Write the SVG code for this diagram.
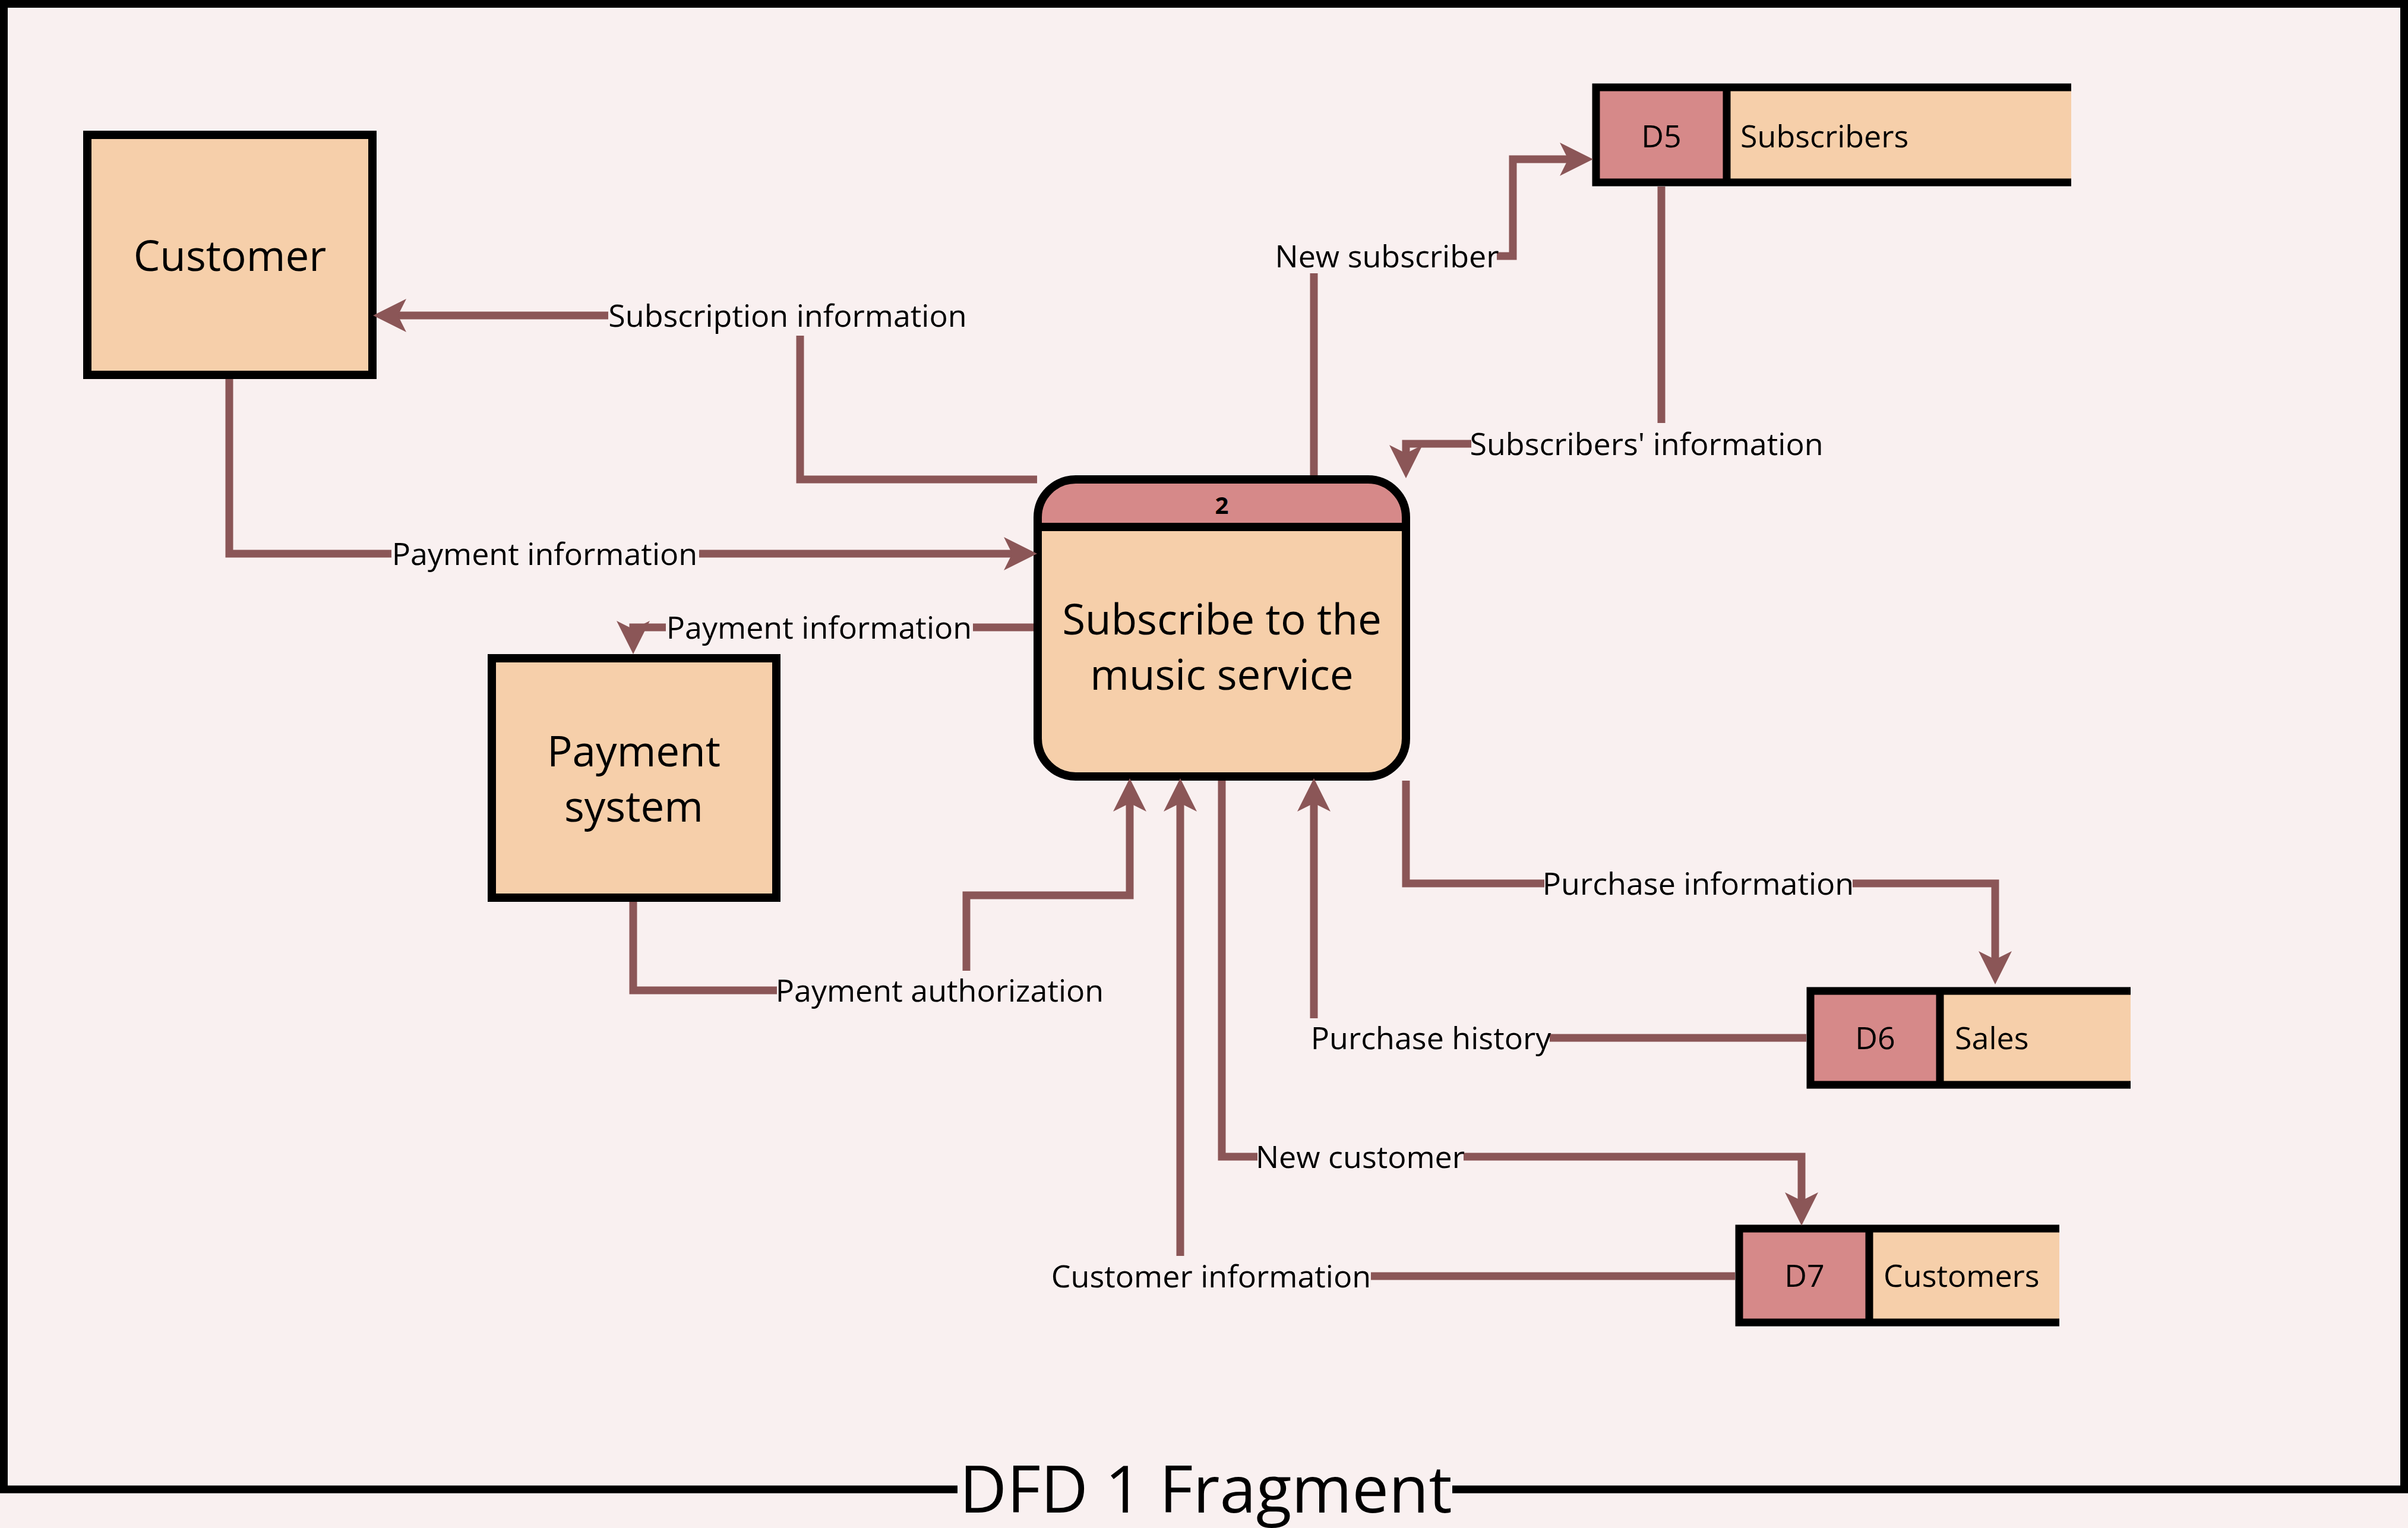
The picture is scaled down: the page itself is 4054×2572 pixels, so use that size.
<svg xmlns="http://www.w3.org/2000/svg" width="4054" height="2572" viewBox="0 0 4054 2572">
<style>
.bg{fill:#f9f0f0}
.ent{fill:#f6cfaa;stroke:#000;stroke-width:14}
.frame{fill:none;stroke:#000;stroke-width:13}
.st{fill:none;stroke:#000;stroke-width:13}
.pk{fill:#d68989}
.pc{fill:#f6cfaa}
.cn{fill:none;stroke:#8b5657;stroke-width:13;stroke-linejoin:miter;stroke-linecap:butt}
.arr{marker-end:url(#ah)}
text{font-family:"Open Sans","Noto Sans","DejaVu Sans",sans-serif;fill:#000}
.nt{font-size:71px;text-anchor:middle}
.lb{font-size:52px;text-anchor:middle}
.sid{font-size:52px;text-anchor:middle}
.snm{font-size:52px;text-anchor:start}
.num{font-size:40px;font-weight:bold;text-anchor:middle}
.title{font-size:110px;text-anchor:middle}
</style>
<defs>
<marker id="ah" markerUnits="userSpaceOnUse" markerWidth="60" markerHeight="60" viewBox="0 -30 60 60" refX="14" refY="0" orient="auto">
<path d="M0,-28 L56,0 L0,28 L14,0 z" fill="#8b5657"/>
</marker>
<clipPath id="pclip"><rect x="1747" y="807" width="620" height="500" rx="64" ry="64"/></clipPath>
</defs>
<rect class="bg" x="0" y="0" width="4054" height="2572"/>
<path class="frame" d="M1612,2507 H6.5 V6.5 H4047.5 V2507 H2445"/>
<text class="title" x="2030" y="2546">DFD 1 Fragment</text>

<g id="customer">
<rect class="ent" x="147" y="227" width="480" height="404"/>
<text class="nt" x="387" y="456">Customer</text>
</g>

<g id="payment-system">
<rect class="ent" x="828" y="1108" width="479" height="403"/>
<text class="nt" x="1067" y="1290">Payment</text>
<text class="nt" x="1067" y="1383">system</text>
</g>

<g id="process-2">
<g clip-path="url(#pclip)">
<rect class="pc" x="1747" y="807" width="620" height="500"/>
<rect class="pk" x="1747" y="807" width="620" height="80"/>
</g>
<path d="M1747,887 H2367" stroke="#000" stroke-width="14"/>
<rect x="1747" y="807" width="620" height="500" rx="64" ry="64" fill="none" stroke="#000" stroke-width="14"/>
<text class="num" x="2057" y="865">2</text>
<text class="nt" x="2057" y="1068">Subscribe to the</text>
<text class="nt" x="2057" y="1161">music service</text>
</g>

<g id="store-d5">
<rect class="pk" x="2687" y="147" width="220" height="160"/>
<rect class="pc" x="2907" y="147" width="580" height="160"/>
<path class="st" d="M3487,147 H2687 V307 H3487 M2907,147 V307"/>
<text class="sid" x="2797" y="248">D5</text>
<text class="snm" x="2930" y="248">Subscribers</text>
</g>

<g id="store-d6">
<rect class="pk" x="3048" y="1668" width="218" height="158"/>
<rect class="pc" x="3266" y="1668" width="321" height="158"/>
<path class="st" d="M3587,1668 H3048 V1826 H3587 M3266,1668 V1826"/>
<text class="sid" x="3157" y="1766">D6</text>
<text class="snm" x="3291" y="1766">Sales</text>
</g>

<g id="store-d7">
<rect class="pk" x="2928" y="2068" width="219" height="158"/>
<rect class="pc" x="3147" y="2068" width="320" height="158"/>
<path class="st" d="M3467,2068 H2928 V2226 H3467 M3147,2068 V2226"/>
<text class="sid" x="3038" y="2166">D7</text>
<text class="snm" x="3171" y="2166">Customers</text>
</g>

<g id="connectors">
<path class="cn" d="M1746,807 H1347 V565"/>
<path class="cn arr" d="M1024,531 H670"/>
<path class="cn" d="M386,638 V932 H659"/>
<path class="cn arr" d="M1177,932 H1704"/>
<path class="cn" d="M1740,1056 H1638"/>
<path class="cn arr" d="M1121,1056 H1066 V1059"/>
<path class="cn" d="M1066,1518 V1667 H1308"/>
<path class="cn arr" d="M1627,1634 V1507 H1902 V1352"/>
<path class="cn" d="M2921,2148 H2308"/>
<path class="cn arr" d="M1987,2114 V1352"/>
<path class="cn" d="M2057,1314 V1947 H2117"/>
<path class="cn arr" d="M2464,1947 H3033 V2021"/>
<path class="cn" d="M3041,1747 H2609"/>
<path class="cn arr" d="M2212,1714 V1352"/>
<path class="cn" d="M2367,1314 V1487 H2600"/>
<path class="cn arr" d="M3119,1487 H3359 V1615"/>
<path class="cn" d="M2212,800 V460"/>
<path class="cn arr" d="M2520,431 H2547 V268 H2640"/>
<path class="cn" d="M2797,314 V712"/>
<path class="cn arr" d="M2477,747 H2367 V763"/>
</g>

<g id="labels">
<text class="lb" x="1326" y="550">Subscription information</text>
<text class="lb" x="917" y="951">Payment information</text>
<text class="lb" x="1379" y="1075">Payment information</text>
<text class="lb" x="1582" y="1686">Payment authorization</text>
<text class="lb" x="2039" y="2167">Customer information</text>
<text class="lb" x="2290" y="1966">New customer</text>
<text class="lb" x="2409" y="1766">Purchase history</text>
<text class="lb" x="2859" y="1506">Purchase information</text>
<text class="lb" x="2335" y="450">New subscriber</text>
<text class="lb" x="2772" y="766">Subscribers' information</text>
</g>
</svg>
